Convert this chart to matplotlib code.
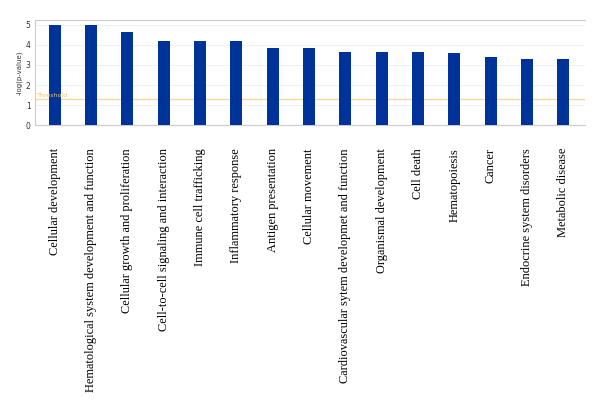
import matplotlib
matplotlib.use("Agg")
import matplotlib.pyplot as plt
import numpy as np

categories = [
    "Cellular development",
    "Hematological system development and function",
    "Cellular growth and proliferation",
    "Cell-to-cell signaling and interaction",
    "Immune cell trafficking",
    "Inflammatory response",
    "Antigen presentation",
    "Cellular movement",
    "Cardiovascular sytem developmet and function",
    "Organismal development",
    "Cell death",
    "Hematopoiesis",
    "Cancer",
    "Endocrine system disorders",
    "Metabolic disease",
]
values = [5.0, 5.0, 4.62, 4.2, 4.2, 4.2, 3.83, 3.83, 3.67, 3.67, 3.67, 3.58, 3.38, 3.28, 3.28]
threshold = 1.3
yticks = [0, 1, 2, 3, 4, 5]

fig = plt.figure(figsize=(6.0, 4.13), dpi=100)
ax = fig.add_axes([0.058, 0.697, 0.917, 0.255])

x = np.arange(len(categories))
ax.bar(x, values, width=0.33, color="#003399", zorder=3)
ax.axhline(threshold, color="#f5d9a0", lw=1.0, zorder=2)
ax.text(-0.5, threshold + 0.05, "Threshold", color="#f0c070", fontsize=4.5,
        va="bottom", ha="left", zorder=4)

ax.set_xlim(-0.55, len(categories) - 0.4)
ax.set_ylim(0, 5.25)
ax.set_yticks(yticks)
ax.yaxis.grid(True, color="#eeeeee", lw=0.6, zorder=0)
ax.tick_params(axis="y", labelsize=5.5, length=0, pad=3, colors="#333333")
ax.set_ylabel("-log(p-value)", fontsize=5, color="#333333", labelpad=2)

ax.set_xticks(x)
ax.set_xticklabels(categories, rotation=90, fontsize=8.9, family="Liberation Serif",
                   va="top", ha="center")
ax.tick_params(axis="x", length=0, pad=16.5)

for s in ["top", "bottom", "left"]:
    ax.spines[s].set_color("#cccccc")
    ax.spines[s].set_linewidth(0.8)
ax.spines["right"].set_visible(False)

fig.savefig("out.png", dpi=100)
